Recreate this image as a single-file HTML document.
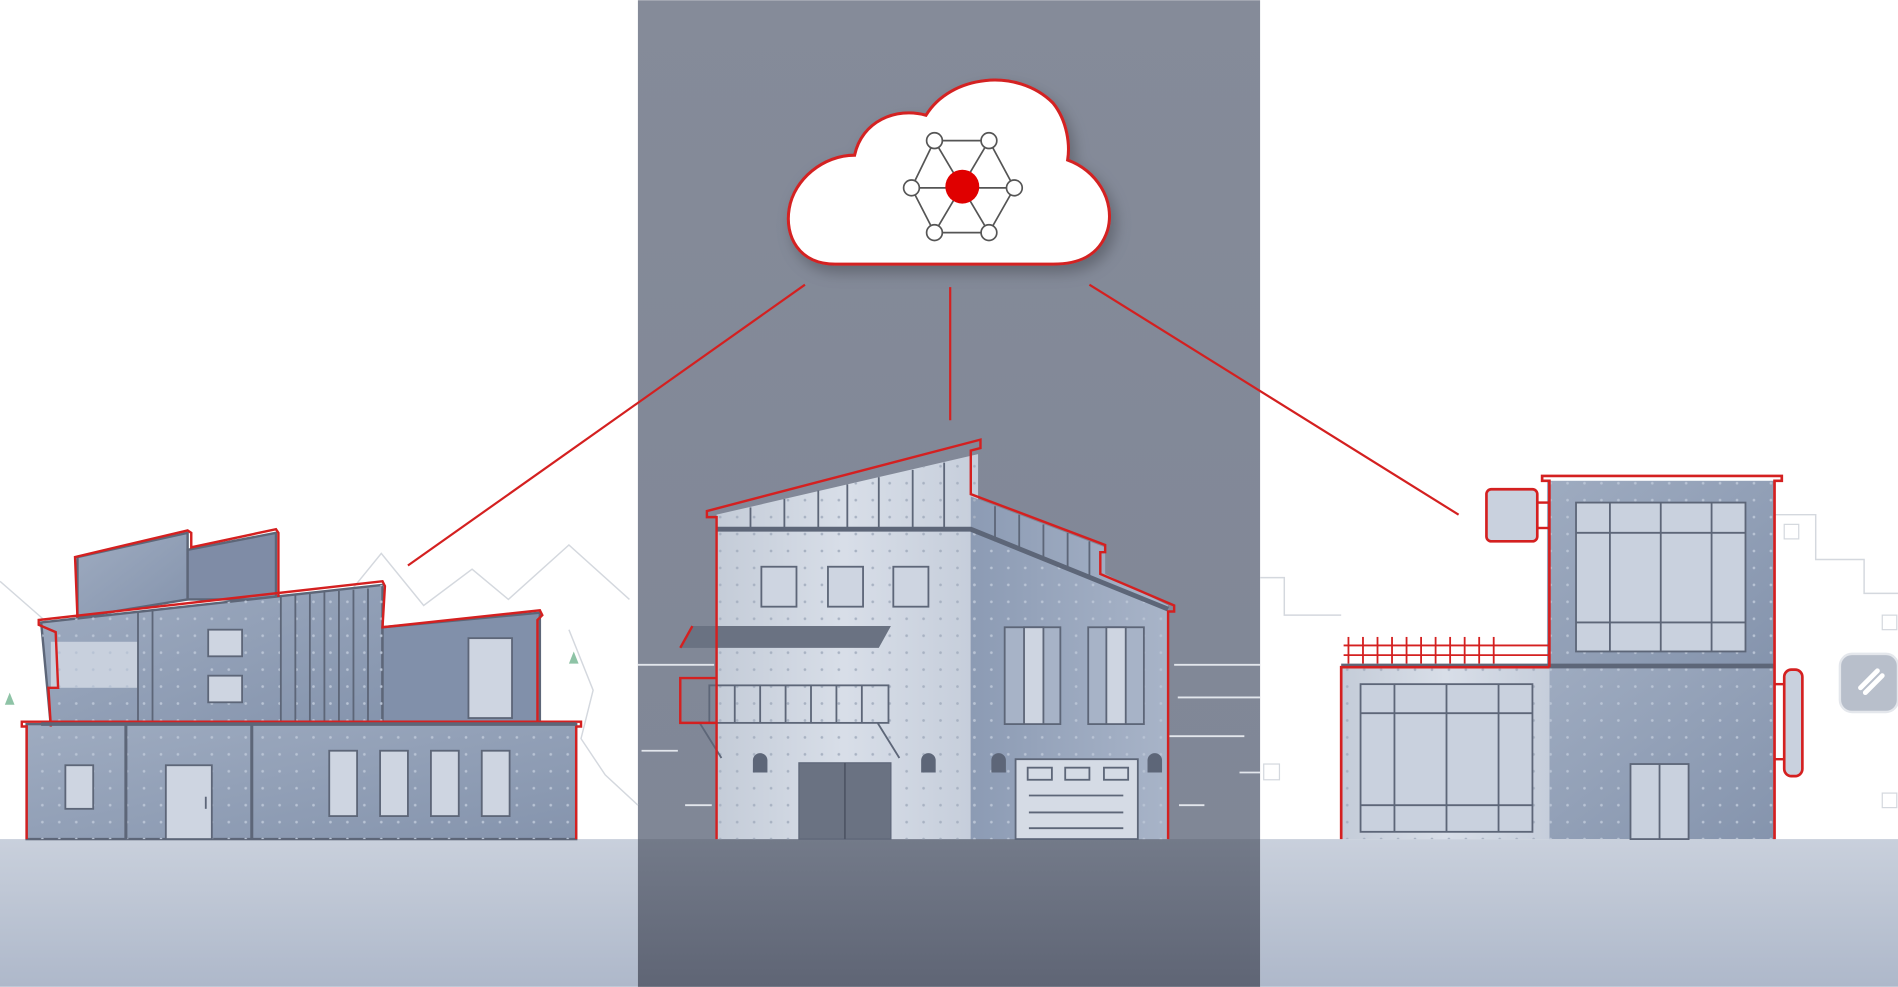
<!DOCTYPE html>
<html><head><style>html,body{margin:0;padding:0;background:#fff;overflow:hidden}svg{display:block}</style></head>
<body>
<svg width="1898" height="987" viewBox="0 0 1568 815" xmlns="http://www.w3.org/2000/svg">
<defs>
<linearGradient id="band" x1="0" y1="0" x2="0" y2="1"><stop offset="0" stop-color="#858b99"/><stop offset="1" stop-color="#7f8696"/></linearGradient>
<linearGradient id="gnd" x1="0" y1="0" x2="0" y2="1"><stop offset="0" stop-color="#c9d0dc"/><stop offset="1" stop-color="#aeb8ca"/></linearGradient>
<linearGradient id="gndc" x1="0" y1="0" x2="0" y2="1"><stop offset="0" stop-color="#737a89"/><stop offset="1" stop-color="#5f6575"/></linearGradient>
<linearGradient id="wl" x1="0" y1="0" x2="1" y2="0"><stop offset="0" stop-color="#c4ccd8"/><stop offset="0.5" stop-color="#d8dee8"/><stop offset="1" stop-color="#c6cedb"/></linearGradient>
<linearGradient id="wd" x1="0" y1="0" x2="1" y2="0"><stop offset="0" stop-color="#8c9bb4"/><stop offset="1" stop-color="#a8b4c8"/></linearGradient>
<linearGradient id="wm" x1="0" y1="0" x2="1" y2="1"><stop offset="0" stop-color="#9eabc0"/><stop offset="1" stop-color="#8594ad"/></linearGradient>
<pattern id="dots" width="14" height="14" patternUnits="userSpaceOnUse"><circle cx="7" cy="7" r="1.1" fill="#a8b2c2"/></pattern>
<pattern id="dots2" width="14" height="14" patternUnits="userSpaceOnUse"><circle cx="7" cy="7" r="1.1" fill="#b8c3d4"/></pattern>
<filter id="sh" x="-20%" y="-20%" width="140%" height="150%"><feDropShadow dx="4" dy="6" stdDeviation="6" flood-color="#000" flood-opacity="0.25"/></filter>
</defs>
<rect width="1568" height="815" fill="#fff"/>
<rect x="527" y="0" width="514" height="815" fill="url(#band)"/>
<!-- mountains left -->
<polyline points="280,500 315,457 350,500 390,470 420,495 470,450 520,495" fill="none" stroke="#d4d8de" stroke-width="1.2"/>
<polyline points="0,480 40,515" fill="none" stroke="#d4d8de" stroke-width="1.2"/>
<polyline points="470,520 490,570 480,610 500,640 527,665" fill="none" stroke="#d4d8de" stroke-width="1.2"/>
<polygon points="470,548 474,538 478,548" fill="#8ec3a6"/>
<polygon points="4,582 8,572 12,582" fill="#8ec3a6"/>
<!-- right background lines -->
<polyline points="1041,477 1061,477 1061,508 1108,508" fill="none" stroke="#d4d8de" stroke-width="1.2"/>
<polyline points="1466,425 1500,425 1500,462 1540,462 1540,490 1568,490" fill="none" stroke="#d4d8de" stroke-width="1.2"/>
<rect x="1474" y="433" width="12" height="12" fill="none" stroke="#d4d8de"/>
<rect x="1555" y="508" width="12" height="12" fill="none" stroke="#d4d8de"/>
<rect x="1555" y="655" width="12" height="12" fill="none" stroke="#d4d8de"/>
<rect x="1044" y="631" width="13" height="13" fill="none" stroke="#d4d8de"/>
<!-- center horizontal lines -->
<g stroke="#e2e6ec" stroke-width="1.5">
<line x1="527" y1="549" x2="590" y2="549"/><line x1="530" y1="620" x2="560" y2="620"/><line x1="566" y1="665" x2="588" y2="665"/>
<line x1="970" y1="549" x2="1041" y2="549"/><line x1="973" y1="576" x2="1041" y2="576"/><line x1="966" y1="608" x2="1028" y2="608"/><line x1="1024" y1="638" x2="1041" y2="638"/><line x1="974" y1="665" x2="995" y2="665"/>
</g>
<!-- grounds -->
<rect x="0" y="693" width="527" height="122" fill="url(#gnd)"/>
<rect x="1041" y="693" width="527" height="122" fill="url(#gnd)"/>
<rect x="527" y="693" width="514" height="122" fill="url(#gndc)"/>
<!-- connectors -->
<g stroke="#d42020" stroke-width="1.8" fill="none">
<line x1="665" y1="235" x2="337" y2="467"/>
<line x1="785" y1="237" x2="785" y2="347"/>
<line x1="900" y1="235" x2="1205" y2="425"/>
</g>
<!-- cloud -->
<path filter="url(#sh)" d="M690,218 C660,218 648,195 652,172 C656,148 680,128 706,128 C712,100 740,88 765,95 C785,62 840,55 870,85 C882,100 884,120 882,132 C905,140 922,165 915,190 C908,212 890,218 870,218 Z" fill="#fff" stroke="#d42020" stroke-width="2.5"/>
<g stroke="#555" stroke-width="1.4" fill="none">
<polygon points="772,116 817,116 838,155 817,192 772,192 753,155"/>
<line x1="772" y1="116" x2="817" y2="192"/><line x1="817" y1="116" x2="772" y2="192"/><line x1="753" y1="155" x2="838" y2="155"/>
</g>
<g fill="#fff" stroke="#555" stroke-width="1.4">
<circle cx="772" cy="116" r="6.5"/><circle cx="817" cy="116" r="6.5"/><circle cx="838" cy="155" r="6.5"/><circle cx="817" cy="192" r="6.5"/><circle cx="772" cy="192" r="6.5"/><circle cx="753" cy="155" r="6.5"/>
</g>
<circle cx="795" cy="154" r="14" fill="#e00000"/>

<!-- LEFT BUILDING -->
<g stroke="#5d6678" stroke-width="2">
<polygon points="64,460 155,440 155,495 64,510" fill="url(#wm)"/>
<polygon points="155,454 228,440 228,495 155,495" fill="#7f8ca6"/>
<polygon points="34,514 316,483 316,600 42,600" fill="url(#wm)"/>
<rect x="42" y="530" width="72" height="38" fill="#c8d0dd" stroke="none"/>
<polygon points="316,518 446,506 446,598 316,598" fill="#8190aa"/>
<rect x="22" y="598" width="454" height="95" fill="url(#wm)"/>
</g>
<rect x="22" y="598" width="454" height="95" fill="url(#dots2)"/>
<polygon points="34,514 316,483 316,600 42,600" fill="url(#dots2)"/>
<g stroke="#5d6678" stroke-width="1.5" fill="none">
<line x1="114" y1="505" x2="114" y2="598"/><line x1="126" y1="504" x2="126" y2="598"/>
<line x1="232" y1="492" x2="232" y2="598"/><line x1="244" y1="491" x2="244" y2="598"/><line x1="256" y1="490" x2="256" y2="598"/><line x1="268" y1="489" x2="268" y2="598"/><line x1="280" y1="488" x2="280" y2="598"/><line x1="292" y1="487" x2="292" y2="598"/><line x1="304" y1="486" x2="304" y2="598"/>
</g>
<g stroke="#5d6678" stroke-width="2.5"><line x1="104" y1="598" x2="104" y2="693"/><line x1="208" y1="598" x2="208" y2="693"/></g>
<g fill="#ced5e1" stroke="#5d6678" stroke-width="1.5">
<rect x="172" y="520" width="28" height="22"/><rect x="172" y="558" width="28" height="22"/>
<rect x="387" y="527" width="36" height="66"/>
<rect x="54" y="632" width="23" height="36"/><rect x="137" y="632" width="38" height="61"/>
<rect x="272" y="620" width="23" height="54"/><rect x="314" y="620" width="23" height="54"/><rect x="356" y="620" width="23" height="54"/><rect x="398" y="620" width="23" height="54"/>
</g>
<line x1="170" y1="658" x2="170" y2="668" stroke="#5d6678" stroke-width="1.5"/>
<g fill="none" stroke="#d42020" stroke-width="2">
<polyline points="64,510 62,460 155,438 158,440 158,452 228,437 230,440 230,493"/>
<polyline points="42,600 40,568 48,568 46,522 32,516 32,512 316,480 318,484 316,518 446,504 448,508 444,512 444,595"/>
<polyline points="22,693 22,600 18,600 18,596 480,596 480,600 476,600 476,693"/>
</g>
<line x1="34" y1="598" x2="476" y2="598" stroke="#5d6678" stroke-width="3"/>

<!-- CENTER BUILDING -->
<polygon points="592,425 808,375 808,437 592,437" fill="url(#wl)"/>
<polygon points="592,437 802,437 802,693 592,693" fill="url(#wl)"/>
<polygon points="802,410 913,452 913,474 965,500 965,693 802,693" fill="url(#wd)"/>
<polygon points="592,425 808,375 808,693 592,693" fill="url(#dots)"/>
<polygon points="802,437 965,503 965,693 802,693" fill="url(#dots2)"/>
<g stroke="#5d6678" stroke-width="1.5">
<line x1="620" y1="419" x2="620" y2="437"/><line x1="648" y1="412" x2="648" y2="437"/><line x1="676" y1="405" x2="676" y2="437"/><line x1="700" y1="400" x2="700" y2="437"/><line x1="726" y1="394" x2="726" y2="437"/><line x1="754" y1="388" x2="754" y2="437"/><line x1="780" y1="382" x2="780" y2="437"/>
<line x1="822" y1="418" x2="822" y2="447"/><line x1="842" y1="425" x2="842" y2="455"/><line x1="862" y1="433" x2="862" y2="463"/><line x1="882" y1="440" x2="882" y2="471"/><line x1="900" y1="447" x2="900" y2="478"/>
</g>
<polyline points="592,437 802,437 965,503" fill="none" stroke="#5d6678" stroke-width="4"/>
<g fill="#ced5e1" stroke="#5d6678" stroke-width="1.5">
<rect x="629" y="468" width="29" height="33"/><rect x="684" y="468" width="29" height="33"/><rect x="738" y="468" width="29" height="33"/>
<rect x="830" y="518" width="46" height="80" fill="#a7b3c7"/><rect x="846" y="518" width="16" height="80"/>
<rect x="899" y="518" width="46" height="80" fill="#a7b3c7"/><rect x="914" y="518" width="16" height="80"/>
</g>
<polygon points="572,517 736,517 726,535 562,535" fill="#6a7282"/>
<g fill="none" stroke="#5d6678" stroke-width="1.5">
<rect x="586" y="566" width="148" height="31"/>
<line x1="607" y1="566" x2="607" y2="597"/><line x1="628" y1="566" x2="628" y2="597"/><line x1="649" y1="566" x2="649" y2="597"/><line x1="670" y1="566" x2="670" y2="597"/><line x1="691" y1="566" x2="691" y2="597"/><line x1="712" y1="566" x2="712" y2="597"/>
<line x1="578" y1="597" x2="596" y2="626"/><line x1="725" y1="597" x2="743" y2="626"/>
</g>
<rect x="660" y="630" width="76" height="63" fill="#6a7282" stroke="#5d6678"/>
<line x1="698" y1="630" x2="698" y2="693" stroke="#4f5666" stroke-width="1.5"/>
<g fill="#5d6678">
<path d="M622,638 v-10 a6,6 0 0 1 12,0 v10z"/><path d="M761,638 v-10 a6,6 0 0 1 12,0 v10z"/><path d="M819,638 v-10 a6,6 0 0 1 12,0 v10z"/><path d="M948,638 v-10 a6,6 0 0 1 12,0 v10z"/>
</g>
<rect x="839" y="627" width="101" height="66" fill="#d5dbe5" stroke="#5d6678" stroke-width="1.5"/>
<g fill="none" stroke="#5d6678" stroke-width="1.5">
<rect x="849" y="634" width="20" height="10"/><rect x="880" y="634" width="20" height="10"/><rect x="912" y="634" width="20" height="10"/>
<line x1="850" y1="657" x2="928" y2="657"/><line x1="850" y1="671" x2="928" y2="671"/><line x1="850" y1="684" x2="928" y2="684"/>
</g>
<g fill="none" stroke="#d42020" stroke-width="2">
<polyline points="592,693 592,427 584,427 584,422 810,363 810,370 802,372 802,408 913,450 913,456 909,456 909,474 970,500 970,505 965,505 965,693"/>
<polyline points="592,560 562,560 562,597 592,597"/>
<line x1="562" y1="535" x2="572" y2="517"/>
</g>

<!-- RIGHT BUILDING -->
<rect x="1278" y="397" width="188" height="154" fill="url(#wm)"/>
<rect x="1108" y="551" width="172" height="142" fill="url(#wl)"/>
<rect x="1280" y="551" width="186" height="142" fill="url(#wm)"/>
<rect x="1278" y="397" width="188" height="296" fill="url(#dots2)"/>
<rect x="1108" y="551" width="172" height="142" fill="url(#dots)"/>
<g fill="#c9d1de" stroke="#5d6678" stroke-width="1.5">
<rect x="1302" y="415" width="140" height="123"/>
<rect x="1124" y="565" width="142" height="122"/>
<rect x="1347" y="631" width="48" height="62"/>
</g>
<g stroke="#5d6678" stroke-width="1.5">
<line x1="1330" y1="415" x2="1330" y2="538"/><line x1="1372" y1="415" x2="1372" y2="538"/><line x1="1414" y1="415" x2="1414" y2="538"/>
<line x1="1302" y1="440" x2="1442" y2="440"/><line x1="1302" y1="514" x2="1442" y2="514"/>
<line x1="1152" y1="565" x2="1152" y2="687"/><line x1="1195" y1="565" x2="1195" y2="687"/><line x1="1238" y1="565" x2="1238" y2="687"/>
<line x1="1124" y1="589" x2="1266" y2="589"/><line x1="1124" y1="665" x2="1266" y2="665"/>
<line x1="1371" y1="631" x2="1371" y2="693"/>
</g>
<line x1="1108" y1="550" x2="1466" y2="550" stroke="#5d6678" stroke-width="4"/>
<g stroke="#d42020" stroke-width="1.5">
<line x1="1110" y1="533" x2="1280" y2="533"/><line x1="1110" y1="541" x2="1280" y2="541"/>
<line x1="1114" y1="526" x2="1114" y2="548"/><line x1="1126" y1="526" x2="1126" y2="548"/><line x1="1138" y1="526" x2="1138" y2="548"/><line x1="1150" y1="526" x2="1150" y2="548"/><line x1="1162" y1="526" x2="1162" y2="548"/><line x1="1174" y1="526" x2="1174" y2="548"/><line x1="1186" y1="526" x2="1186" y2="548"/><line x1="1198" y1="526" x2="1198" y2="548"/><line x1="1210" y1="526" x2="1210" y2="548"/><line x1="1222" y1="526" x2="1222" y2="548"/><line x1="1234" y1="526" x2="1234" y2="548"/>
</g>
<g fill="none" stroke="#d42020" stroke-width="2.2">
<polyline points="1108,693 1108,551 1280,551"/>
<polyline points="1280,551 1280,397 1274,397 1274,393 1472,393 1472,397 1466,397 1466,693"/>
</g>
<rect x="1228" y="404" width="42" height="43" rx="4" fill="#c9d1de" stroke="#d42020" stroke-width="2.2"/>
<line x1="1270" y1="415" x2="1280" y2="415" stroke="#d42020" stroke-width="2"/><line x1="1270" y1="436" x2="1280" y2="436" stroke="#d42020" stroke-width="2"/>
<rect x="1474" y="553" width="15" height="88" rx="6" fill="#c9d1de" stroke="#d42020" stroke-width="2.2"/>
<line x1="1466" y1="565" x2="1474" y2="565" stroke="#d42020" stroke-width="2"/><line x1="1466" y1="627" x2="1474" y2="627" stroke="#d42020" stroke-width="2"/>
<!-- floating icon -->
<rect x="1520" y="540" width="48" height="48" rx="10" fill="#b8bfcb" stroke="#e4e7ec" stroke-width="2"/>
<path d="M1537,568 l14,-14 m-10,18 l14,-14" stroke="#fff" stroke-width="4" stroke-linecap="round"/>
</svg>
</body></html>
